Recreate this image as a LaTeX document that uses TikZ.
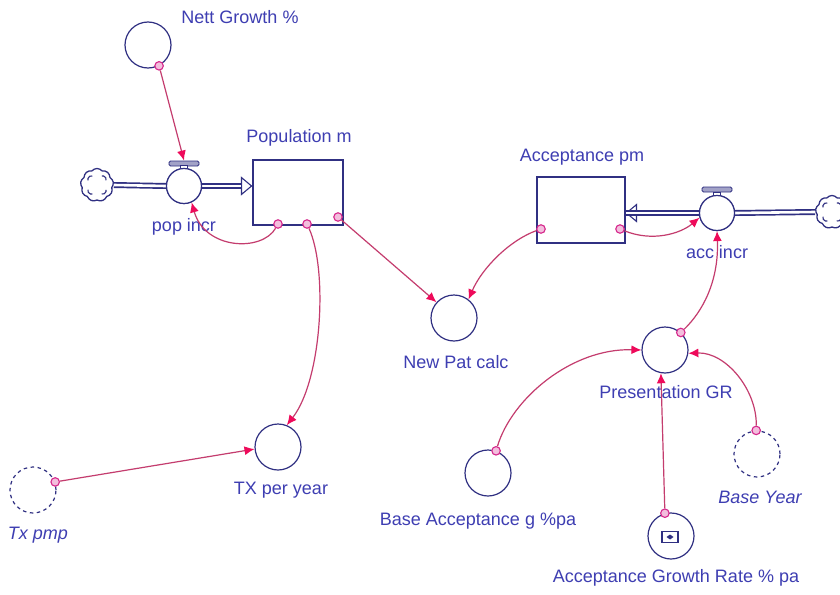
\documentclass[tikz,border=0pt]{standalone}
\usepackage{fontspec}
\setmainfont{Liberation Sans}
\usetikzlibrary{shapes.geometric,shapes.symbols,arrows.meta}

\definecolor{navy}{RGB}{48,48,130}
\definecolor{lblblue}{RGB}{62,62,178}
\definecolor{linkred}{RGB}{196,60,110}
\definecolor{tipred}{RGB}{238,10,90}
\definecolor{dotpink}{RGB}{214,40,140}

\begin{document}
\begin{tikzpicture}[x=1pt,y=-1pt,
  aux/.style={circle, draw=navy, line width=1.2pt, minimum size=46pt, inner sep=0pt},
  ghost/.style={aux, dash pattern=on 3.5pt off 3.5pt},
  stockbox/.style={rectangle, draw=navy, line width=1.2pt, inner sep=0pt},
  valvebody/.style={circle, draw=navy, line width=1.2pt, minimum size=35pt, inner sep=0pt, fill=white},
  valvebar/.style={rectangle, rounded corners=1.5pt, draw=navy, fill=navy!45, line width=0.9pt, minimum width=30pt, minimum height=5pt, inner sep=0pt},
  valvestem/.style={rectangle, draw=navy, fill=white, line width=0.9pt, minimum width=7pt, minimum height=4pt, inner sep=0pt},
  sink/.style={cloud, cloud puffs=9, cloud puff arc=100, aspect=1, draw=navy, line width=1.3pt, minimum size=33pt, inner sep=0pt, fill=white},
  pipe/.style={draw=navy, line width=1.7pt, double=white, double distance=2.6pt},
  inflow/.style={isosceles triangle, isosceles triangle apex angle=80, draw=navy, fill=white, line width=1.1pt, minimum height=10pt, inner sep=0pt},
  lbl/.style={text=lblblue, font=\fontsize{18}{21}\selectfont, inner sep=0pt},
  ilbl/.style={text=lblblue, font=\fontsize{18}{21}\selectfont\itshape, inner sep=0pt},
  srcdot/.style={circle, draw=dotpink, fill=dotpink!30, line width=1.1pt, minimum size=8.5pt, inner sep=0pt},
  link/.style={draw=linkred, line width=1.2pt, -{Latex[length=10pt,width=9pt,color=tipred]}},
]
\fill[white] (0,0) rectangle (840,594);
\useasboundingbox (0,0) rectangle (840,594);

% ---------- stocks ----------
\node[stockbox, minimum width=90pt, minimum height=65pt] (pop) at (298,192.5) {};
\node[stockbox, minimum width=88pt, minimum height=66pt] (acc) at (581,210) {};

% ---------- clouds ----------
\node[sink] (cL) at (97,185) {};
\node[sink] (cR) at (832,212) {};
\foreach \c in {cL,cR}{
  \foreach \a in {45,135,225,315}{
    \draw[navy, line width=1.1pt] ([shift={(\a:8)}]\c.center) ++(\a+60:3.5) arc[start angle=\a+60, end angle=\a-60, radius=3.5];
  }
}

% ---------- flows ----------
\node[valvebody] (popv) at (184,186) {};
\node[valvebar] (popbar) at (184,163.5) {};
\node[valvestem] (popstem) at (184,167.5) {};
\node[inflow, anchor=apex] (popin) at (pop.west |- popv.center) {};
\draw[pipe] (cL.east) -- (popv.west);
\draw[pipe] (popv.east) -- (popin.west);
\node[valvebody] at (184,186) {};

\node[valvebody] (accv) at (717,213) {};
\node[valvebar] (accbar) at (717,189.5) {};
\node[valvestem] (accstem) at (717,194) {};
\node[inflow, anchor=apex, shape border rotate=180] (accin) at (acc.east |- accv.center) {};
\draw[pipe] (cR.west) -- (accv.east);
\draw[pipe] (accv.west) -- (accin.west);
\node[valvebody] at (717,213) {};

% ---------- converters ----------
\node[aux] (ng) at (148,45) {};
\node[aux] (npc) at (454,318) {};
\node[aux] (tx) at (278,447) {};
\node[ghost] (txp) at (33,490) {};
\node[aux] (pgr) at (665,350) {};
\node[aux] (ba) at (488,473) {};
\node[ghost] (by) at (757,454) {};
\node[aux] (agr) at (671,536) {};
\node[rectangle, draw=navy, line width=1.2pt, minimum width=16pt, minimum height=11pt, inner sep=0pt] (agricon) at (670,537) {};
\fill[navy] (agricon.center) ++(-3.5,0) -- ++(3.5,-2.5) -- ++(3.5,2.5) -- ++(-3.5,2.5) -- cycle;

% ---------- labels ----------
\node[lbl] at (240,17) {Nett Growth \%};
\node[lbl] at (299,138) {Population m};
\node[lbl] at (184,227) {pop incr};
\node[lbl] at (582,157) {Acceptance pm};
\node[lbl] at (717,252) {acc incr};
\node[lbl] at (456,362) {New Pat calc};
\node[lbl] at (666,392) {Presentation GR};
\node[lbl] at (478,521) {Base Acceptance g \%pa};
\node[ilbl] at (760,497) {Base Year};
\node[lbl] at (676,578) {Acceptance Growth Rate \% pa};
\node[lbl] at (281,490) {TX per year};
\node[ilbl] at (38,535) {Tx pmp};

% ---------- connector sources ----------
\node[srcdot] (dng) at (ng.-62) {};
\node[srcdot] (dp1) at (278,224) {};
\node[srcdot] (dp2) at (307,224) {};
\node[srcdot] (dp3) at (338,217) {};
\node[srcdot] (da1) at (541,229) {};
\node[srcdot] (da2) at (620,229) {};
\node[srcdot] (dpgr) at (pgr.48) {};
\node[srcdot] (dba) at (ba.70) {};
\node[srcdot] (dby) at (by.92) {};
\node[srcdot] (dagr) at (agr.105) {};
\node[srcdot] (dtxp) at (txp.20) {};

% ---------- connectors ----------
\draw[link] (dng) -- (popbar.north);
\draw[link] (dp1) .. controls (262,252) and (205,250) .. (popv.-65);
\draw[link] (dp2) .. controls (328,270) and (322,380) .. (tx.68);
\draw[link] (dp3) -- (npc.138);
\draw[link] (da1) .. controls (510,240) and (482,268) .. (npc.52);
\draw[link] (da2) .. controls (652,242) and (680,234) .. (accv.195);
\draw[link] (dpgr) .. controls (702,312) and (719,282) .. (accv.-90);
\draw[link] (dba) .. controls (512,398) and (572,348) .. (pgr.180);
\draw[link] (dby) .. controls (757,390) and (726,352) .. (pgr.-8);
\draw[link] (dagr) -- (pgr.-100);
\draw[link] (dtxp) -- (tx.185);

\end{tikzpicture}
\end{document}
